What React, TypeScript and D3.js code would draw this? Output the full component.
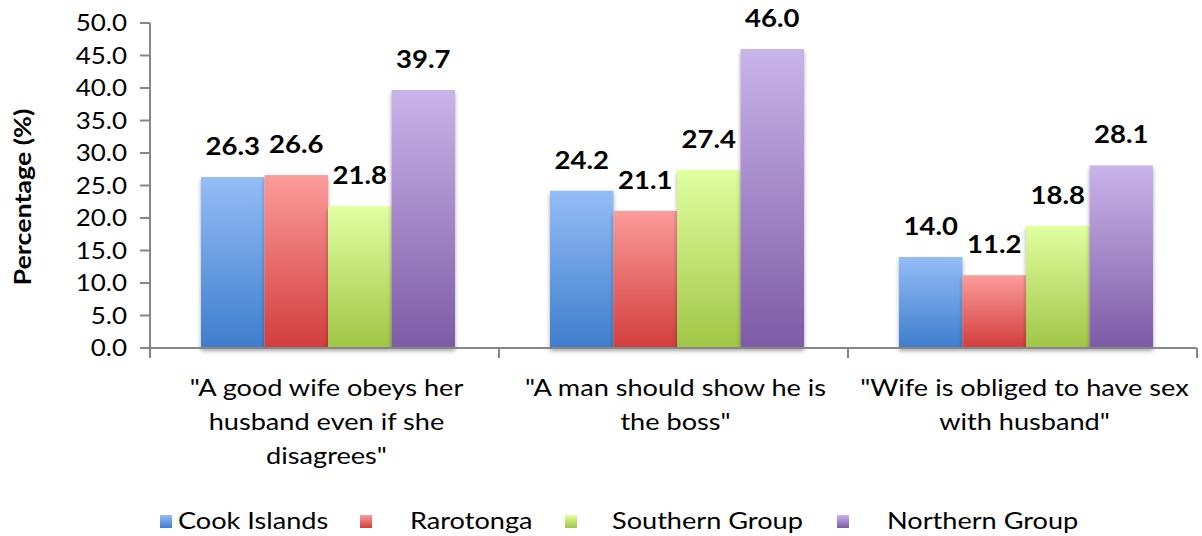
import React from "react";
import * as d3 from "d3";

const categories = [
  ['"A good wife obeys her', 'husband even if she', 'disagrees"'],
  ['"A man should show he is', 'the boss"'],
  ['"Wife is obliged to have sex', 'with husband"'],
];
const seriesNames = ["Cook Islands", "Rarotonga", "Southern Group", "Northern Group"];
const cookIslands = [26.3, 24.2, 14.0];
const rarotonga = [26.6, 21.1, 11.2];
const southernGroup = [21.8, 27.4, 18.8];
const northernGroup = [39.7, 46.0, 28.1];
const yTicks = [0, 5, 10, 15, 20, 25, 30, 35, 40, 45, 50];

const seriesValues = [cookIslands, rarotonga, southernGroup, northernGroup];
const gradColors = [
  ["#94bdf7", "#3e7dcc"],
  ["#fb9c9b", "#d23d3c"],
  ["#e0ffa0", "#a0c646"],
  ["#c9b4ea", "#7e5aa6"],
];

const W = 1202, H = 536;
const left = 150, right = 1197, top = 23, bottom = 348;
const FONT = "Lato, 'Open Sans', sans-serif";

function T({ x, y, sx = 1.18, anchor = "start", size = 23, bold = false, rotate = 0, children, dy }: any) {
  return (
    <g transform={`translate(${x},${y}) rotate(${rotate}) scale(${sx},1)`}>
      <text x={0} y={0} dy={dy} textAnchor={anchor} fontFamily={FONT} fontSize={size}
        fontWeight={bold ? "bold" : "normal"} fill="#000">{children}</text>
    </g>
  );
}

export default function App() {
  const x0 = d3.scaleBand().domain(["0", "1", "2"]).range([left, right]);
  const y = d3.scaleLinear().domain([0, 50]).range([bottom, top]);
  const groupStart = 51;
  const groupWidth = 254;
  const x1 = d3.scaleBand().domain(["0", "1", "2", "3"]).range([groupStart, groupStart + groupWidth]);
  const fmt = d3.format(".1f");
  const legendX = [160, 360, 565, 837];
  const legendTextX = [178, 410, 612, 887];

  return (
    <div style={{ position: "absolute", left: 0, top: 0 }}>
      <svg width={W} height={H} style={{ display: "block", background: "#fff" }}>
        <defs>
          {gradColors.map((c, i) => (
            <linearGradient key={i} id={`g${i}`} x1="0" y1="0" x2="0" y2="1">
              <stop offset="0%" stopColor={c[0]} />
              <stop offset="100%" stopColor={c[1]} />
            </linearGradient>
          ))}
          <filter id="sh" x="-20%" y="-10%" width="140%" height="130%">
            <feGaussianBlur in="SourceAlpha" stdDeviation="2" />
            <feOffset dx="0" dy="3" result="b" />
            <feComponentTransfer><feFuncA type="linear" slope="0.35" /></feComponentTransfer>
            <feMerge><feMergeNode /><feMergeNode in="SourceGraphic" /></feMerge>
          </filter>
        </defs>

        {/* bars */}
        {seriesValues.map((vals, si) =>
          vals.map((v, ci) => {
            const bx = (x0(String(ci)) as number) + (x1(String(si)) as number);
            return (
              <rect key={`${si}-${ci}`} x={bx} y={y(v)} width={x1.bandwidth()} height={bottom - y(v)}
                fill={`url(#g${si})`} filter="url(#sh)" />
            );
          })
        )}
        {/* value labels */}
        {seriesValues.map((vals, si) =>
          vals.map((v, ci) => {
            const bx = (x0(String(ci)) as number) + (x1(String(si)) as number) + x1.bandwidth() / 2;
            return (
              <T key={`l${si}-${ci}`} x={bx} y={y(v) - 22} anchor="middle" size={25} bold sx={1.1}>{fmt(v)}</T>
            );
          })
        )}

        {/* y axis */}
        <line x1={left} x2={left} y1={top} y2={bottom} stroke="#868686" strokeWidth={2} />
        {yTicks.map((t) => (
          <g key={t}>
            <line x1={left - 10} x2={left} y1={y(t)} y2={y(t)} stroke="#868686" strokeWidth={2} />
            <T x={127} y={y(t)} dy="0.36em" anchor="end" sx={1.13}>{fmt(t)}</T>
          </g>
        ))}
        <T x={31} y={197} rotate={-90} anchor="middle" size={22} bold sx={1.22}>Percentage (%)</T>

        {/* x axis */}
        <line x1={left} x2={right} y1={bottom} y2={bottom} stroke="#868686" strokeWidth={2} />
        {[0, 1, 2, 3].map((i) => {
          const xx = i < 3 ? (x0(String(i)) as number) : right;
          return <line key={i} x1={xx} x2={xx} y1={bottom} y2={bottom + 10} stroke="#868686" strokeWidth={2} />;
        })}
        {categories.map((lines, ci) =>
          lines.map((ln, li) => (
            <T key={`${ci}-${li}`} x={(x0(String(ci)) as number) + x0.bandwidth() / 2 + 2} y={396 + li * 34}
              anchor="middle">{ln}</T>
          ))
        )}

        {/* legend */}
        {seriesNames.map((n, i) => (
          <g key={n}>
            <rect x={legendX[i]} y={515} width={12} height={13} fill={`url(#g${i})`} />
            <T x={legendTextX[i]} y={521} dy="0.36em">{n}</T>
          </g>
        ))}
      </svg>
    </div>
  );
}
